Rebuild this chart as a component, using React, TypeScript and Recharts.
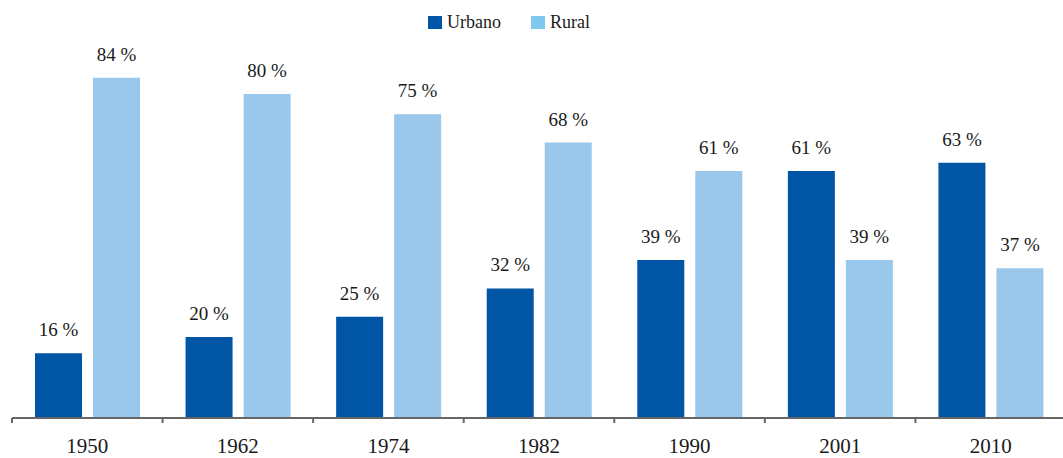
import React from "react";
import { BarChart, Bar, XAxis, YAxis, Legend, LabelList } from "recharts";

const years = ["1950", "1962", "1974", "1982", "1990", "2001", "2010"];
const urbano = [16, 20, 25, 32, 39, 61, 63];
const rural = [84, 80, 75, 68, 61, 39, 37];

const URBAN_COLOR = "#0055A4";
const RURAL_COLOR = "#99C8EC";
const FONT = "'Liberation Serif', 'Times New Roman', serif";

const CHART_W = 1066;
const CHART_H = 458;
const MARGIN = { top: 13, right: 0, left: 12, bottom: 0 };
const BAND = (CHART_W - MARGIN.left - MARGIN.right) / years.length;

const data = years.map((year, i) => ({
  year,
  urbano: urbano[i],
  rural: rural[i],
}));

const YearTick = (props: any) => {
  const { x, y, payload } = props;
  const left = x - BAND / 2;
  return (
    <g>
      <line x1={left} y1={y - 6} x2={left} y2={y - 1} stroke="#666" strokeWidth={2} />
      <text
        x={x}
        y={y + 29}
        textAnchor="middle"
        fontFamily={FONT}
        fontSize={21}
        fill="#1a1a1a"
      >
        {payload.value}
      </text>
    </g>
  );
};

const legendItems = [
  { label: "Urbano", color: URBAN_COLOR },
  { label: "Rural", color: "#80C8EE" },
];

const renderLegend = () => (
  <div style={{ display: "flex", alignItems: "center", fontFamily: FONT, fontSize: 18, color: "#1a1a1a" }}>
    {legendItems.map((item, i) => (
      <div
        key={item.label}
        style={{ display: "flex", alignItems: "center", marginLeft: i === 0 ? 0 : 30 }}
      >
        <span
          style={{ display: "inline-block", width: 14, height: 13, background: item.color, marginRight: 5 }}
        />
        <span>{item.label}</span>
      </div>
    ))}
  </div>
);

const labelStyle = { fontFamily: FONT, fontSize: 19, fill: "#1a1a1a" };

export default function App() {
  return (
    <div
      style={{
        position: "absolute",
        left: 0,
        top: 0,
        width: 1063,
        height: 458,
        overflow: "hidden",
        background: "#fff",
      }}
    >
      <BarChart
        width={CHART_W}
        height={CHART_H}
        data={data}
        margin={MARGIN}
        barSize={47}
        barGap={11}
      >
        <XAxis
          dataKey="year"
          height={40}
          axisLine={{ stroke: "#666", strokeWidth: 2 }}
          tickLine={false}
          tickSize={6}
          tickMargin={0}
          interval={0}
          tick={<YearTick />}
        />
        <YAxis hide domain={[0, 100]} />
        <Legend
          verticalAlign="middle"
          align="center"
          content={renderLegend}
          wrapperStyle={{ top: 12, left: 428, width: "auto" }}
        />
        <Bar dataKey="urbano" name="Urbano" fill={URBAN_COLOR} isAnimationActive={false}>
          <LabelList
            dataKey="urbano"
            position="top"
            offset={17}
            formatter={(v: any) => `${v} %`}
            style={labelStyle}
          />
        </Bar>
        <Bar dataKey="rural" name="Rural" fill={RURAL_COLOR} isAnimationActive={false}>
          <LabelList
            dataKey="rural"
            position="top"
            offset={17}
            formatter={(v: any) => `${v} %`}
            style={labelStyle}
          />
        </Bar>
      </BarChart>
    </div>
  );
}
